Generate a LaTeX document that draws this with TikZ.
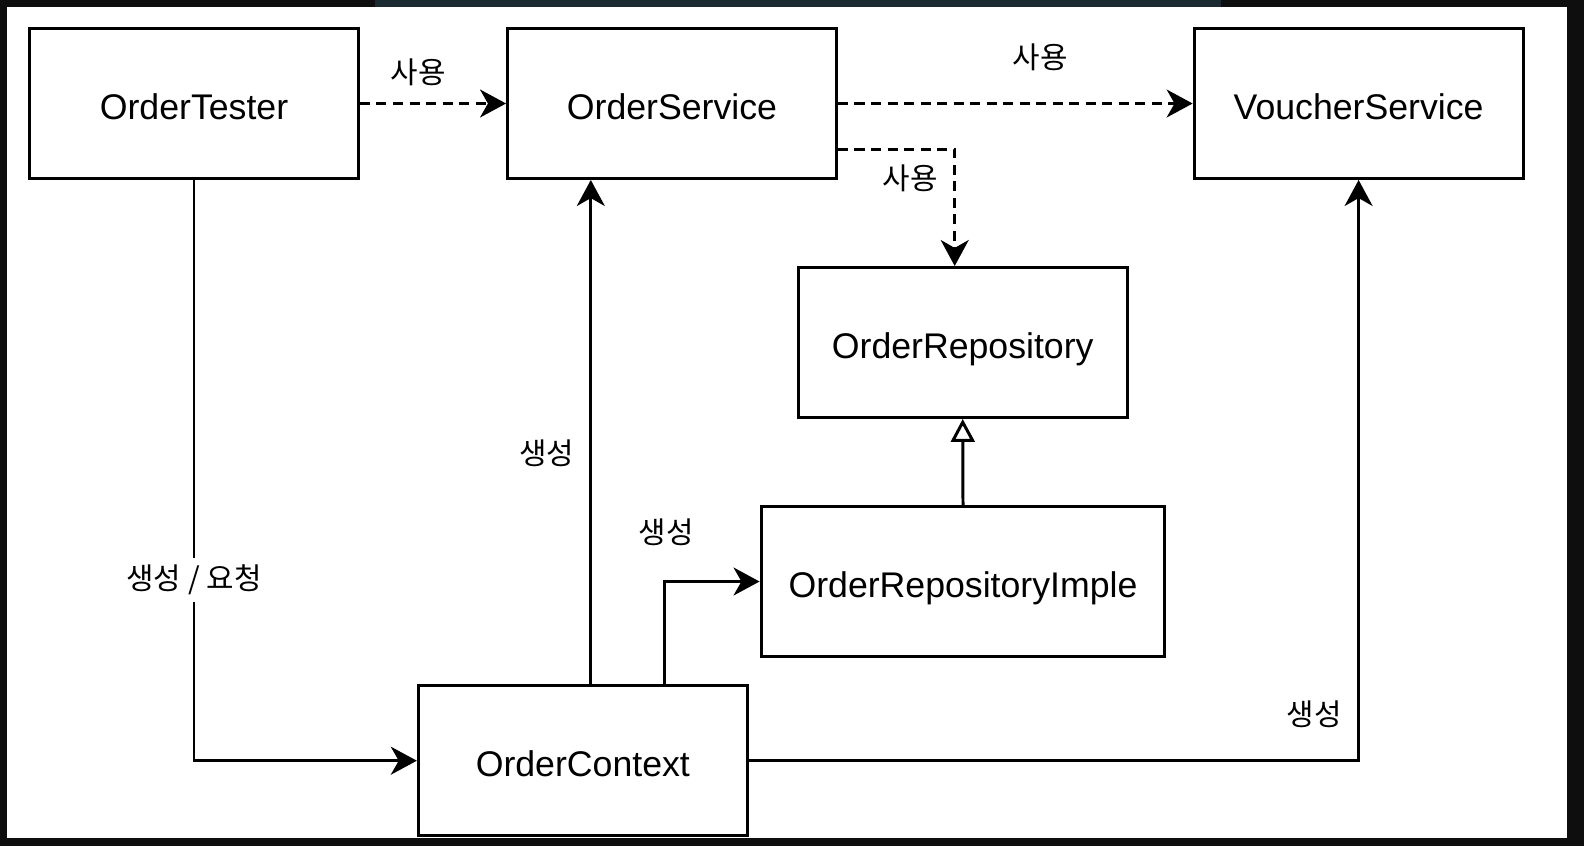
\documentclass[tikz,border=0pt]{standalone}
\usepackage{fontspec}
\setmainfont{Liberation Sans}
\newfontfamily\kor{Noto Sans CJK KR}
\usetikzlibrary{arrows.meta}
\definecolor{frame}{HTML}{0E0E0E}
\definecolor{slate}{HTML}{1C2A31}

\begin{document}
\begin{tikzpicture}[x=0.02cm,y=-0.02cm,
		cls/.style={draw,line width=1.7pt,minimum width=6.58cm,minimum height=3cm,inner sep=0pt,text height=18pt,text depth=0pt,font=\fontsize{20.3}{24}\selectfont},
		lbl/.style={font=\kor\fontsize{17}{20}\selectfont,inner sep=1pt},
		use/.style={line width=1.7pt,dash pattern=on 5.7pt off 3.7pt,-{Stealth[length=14.8pt,width=15.9pt,inset=4.5pt]}},
		mk/.style={line width=1.7pt,-{Stealth[length=14.8pt,width=15.9pt,inset=4.5pt]}},
		realize/.style={line width=1.7pt,-{Triangle[open,length=13pt,width=13.5pt]}}]
		% screen frame
		\fill[frame] (0,0) rectangle (1584,846);
		\fill[slate] (375,0) rectangle (1221,7.3);
		\fill[white] (7.3,7.3) rectangle (1566.7,837.7);
		\path (194,103.5) node(tester)[cls]{OrderTester}
		(672,103.5) node(service)[cls]{OrderService}
		(1358.6,103.5) node(voucher)[cls]{VoucherService}
		(962.7,342.5) node(repo)[cls]{OrderRepository}
		(963,581.5) node(impl)[cls,minimum width=8.08cm]{OrderRepositoryImple}
		(582.8,760.7) node(context)[cls]{OrderContext};
		\coordinate (s1) at ([yshift=-0.92cm]service.east);
		\coordinate (r1) at ([xshift=-0.16cm]repo.north);
		\coordinate (c1) at ([xshift=0.16cm]context.north);
		\coordinate (c2) at ([xshift=1.64cm]context.north);
		\draw[use] (tester) -- (service);
		\draw[use] (service) -- (voucher);
		\draw[use] (s1) -| (r1);
		\draw[realize] (impl.north) -- (repo.south);
		\draw[mk] (tester.south) |- (context.west);
		\draw[mk] (c1) -- (c1 |- service.south);
		\draw[mk] (c2) |- (impl.west);
		\draw[mk] (context.east) -| (voucher.south);
		\path (418,72.7) node(u1)[lbl]{사용}
		(1040,57.6) node(u2)[lbl]{사용}
		(910,178) node(u3)[lbl]{사용}
		(194,580) node(m1)[lbl,fill=white,inner sep=4pt]{생성 / 요청}
		(546.5,453.6) node(m2)[lbl]{생성}
		(666,532) node(m3)[lbl]{생성}
		(1314,714) node(m4)[lbl]{생성};
	\end{tikzpicture}
\end{document}
